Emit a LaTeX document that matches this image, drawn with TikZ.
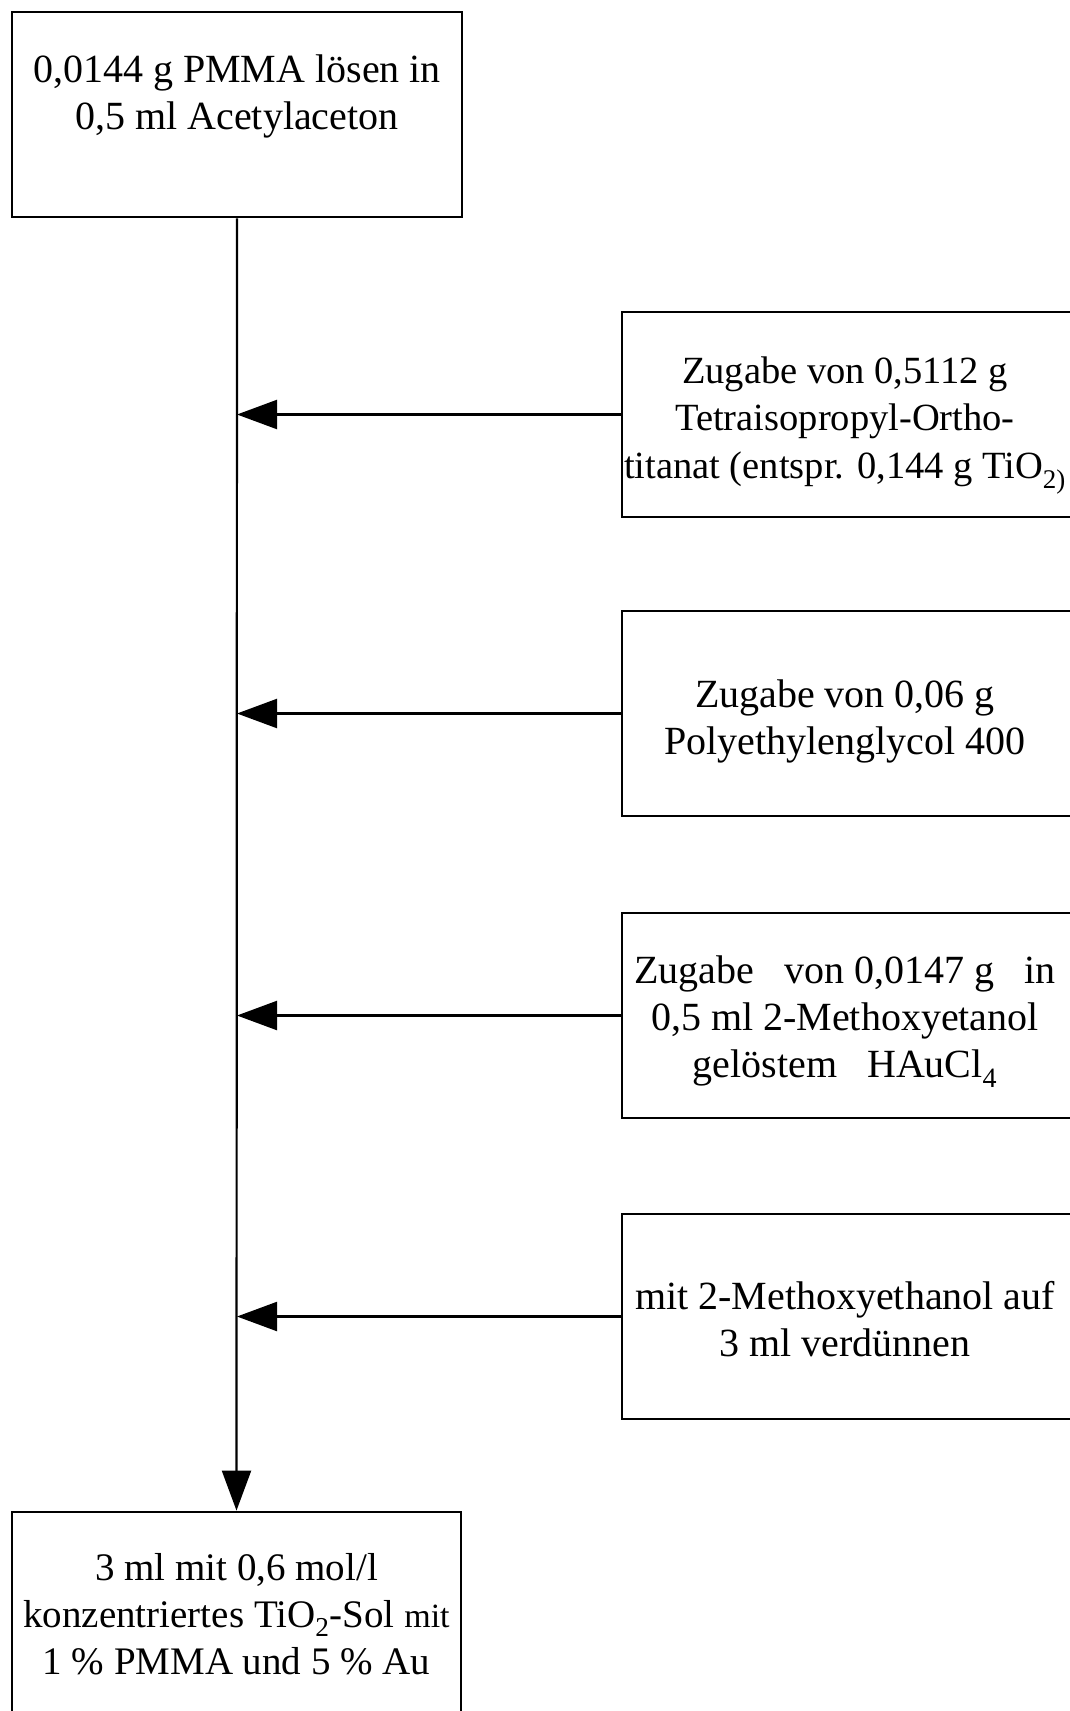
\documentclass[tikz,border=0pt]{standalone}
\usepackage{fontspec}
\setmainfont{Liberation Serif}
\usetikzlibrary{arrows.meta}
\begin{document}
\begin{tikzpicture}[x=1pt,y=-1pt,
  box/.style={draw,line width=2.8pt,minimum width=450pt,minimum height=205pt,inner sep=0pt},
  txt/.style={align=center,font=\fontsize{40}{47}\selectfont,inner sep=0pt},
  flow/.style={line width=2.2pt,-{Triangle[length=40pt,width=29pt]}}]
\useasboundingbox (0,0) rectangle (1070,1711);
\clip (0,0) rectangle (1070,1711);
% boxes
\node[box] (top) at (237,114.5) {};
\node[box] (b1) at (847,414.5) {};
\node[box] (b2) at (847,713.5) {};
\node[box] (b3) at (847,1015.5) {};
\node[box] (b4) at (847,1316.5) {};
\node[box,minimum width=449pt] (bot) at (236.5,1614.5) {};
% texts
\node[txt] (ttop) at (237,96) {0,0144 g PMMA lösen in\\0,5 ml Acetylaceton};
\node[txt,font=\fontsize{38.5}{47.5}\selectfont] (t1) at (845,425.5) {Zugabe von 0,5112 g\\Tetraisopropyl-Ortho-\\titanat (entspr. 0,144 g TiO\textsubscript{2)}};
\node[txt] (t2) at (845,721) {Zugabe von 0,06 g\\Polyethylenglycol 400};
\node[txt] (t3) at (845,1022) {Zugabe\hspace{0.5em} von 0,0147 g\hspace{0.5em} in\\0,5 ml 2-Methoxyetanol\\gelöstem\hspace{0.5em} HAuCl\textsubscript{4}};
\node[txt] (t4) at (845,1319) {mit 2-Methoxyethanol auf\\3 ml verdünnen};
\node[txt,font=\fontsize{39}{47}\selectfont] (tbot) at (236.5,1614) {3 ml mit 0,6 mol/l\\konzentriertes TiO\textsubscript{2}-Sol {\fontsize{34}{47}\selectfont mit}\\1 \% PMMA und 5 \% Au};
% junctions
\coordinate (j1) at (237,414.5);
\coordinate (j2) at (237,713.5);
\coordinate (j3) at (237,1015.5);
\coordinate (j4) at (237,1316.5);
% connectors
\draw[flow] (top.south) -- (bot.north);
\draw[flow] (b1.west) -- (j1);
\draw[flow] (b2.west) -- (j2);
\draw[flow] (b3.west) -- (j3);
\draw[flow] (b4.west) -- (j4);
\end{tikzpicture}
\end{document}
